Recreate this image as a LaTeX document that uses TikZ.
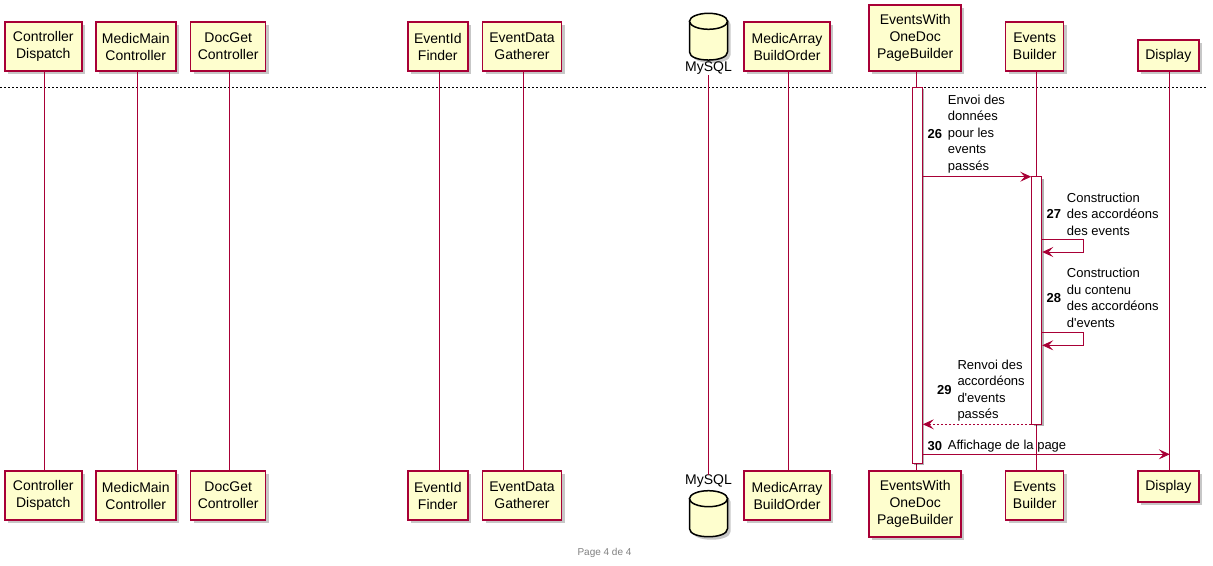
\documentclass[tikz,border=0pt]{standalone}
\usepackage{fontspec}
\setmainfont{Liberation Sans}
\usetikzlibrary{arrows.meta,shadows}
\definecolor{pfill}{HTML}{FEFECE}
\definecolor{pline}{HTML}{A80036}

\tikzset{
  boxshadow/.style={drop shadow={shadow xshift=3pt,shadow yshift=-3pt,fill=black,opacity=0.22}},
  part/.style={draw=pline, fill=pfill, line width=1.5pt, inner sep=0pt, align=center,
    font=\fontsize{14}{17}\selectfont, boxshadow},
  two/.style={part, minimum height=49pt},
  three/.style={part, minimum height=66pt},
  one/.style={part, minimum height=31pt},
  life/.style={draw=pline, line width=1pt},
  actbar/.style={draw=pline, fill=white, line width=1pt, minimum width=10pt, inner sep=0pt,
    drop shadow={shadow xshift=2pt,shadow yshift=-2pt,fill=black,opacity=0.3}},
  msg/.style={draw=pline, line width=1pt, -{Stealth[length=11pt,width=10pt,inset=4.5pt]}},
  reply/.style={msg, dash pattern=on 2pt off 2pt},
  msgtxt/.style={inner sep=0pt, align=left, font=\fontsize{13}{16.5}\selectfont, anchor=west},
  num/.style={inner sep=0pt, font=\fontsize{13}{16.5}\selectfont\bfseries, anchor=east},
  dbtxt/.style={inner sep=0pt, font=\fontsize{14}{17}\selectfont},
}

\begin{document}
\begin{tikzpicture}[x=1pt,y=-1pt]
\useasboundingbox (0,0) rectangle (1213,565);

% participants, top row
\node[two, minimum width=77pt] (cdT) at (43.3,46.5) {Controller\\Dispatch};
\node[two, minimum width=80pt] (mmT) at (135.8,46.5) {MedicMain\\Controller};
\node[two, minimum width=75pt] (dgT) at (228.2,46.5) {DocGet\\Controller};
\node[two, minimum width=60pt] (eiT) at (437.8,46.5) {EventId\\Finder};
\node[two, minimum width=79pt] (edT) at (522,46.5) {EventData\\Gatherer};
\node[two, minimum width=86pt] (maT) at (787,46.5) {MedicArray\\BuildOrder};
\node[three, minimum width=92pt] (ewT) at (915.2,38) {EventsWith\\OneDoc\\PageBuilder};
\node[two, minimum width=58pt] (ebT) at (1034.7,46.5) {Events\\Builder};
\node[one, minimum width=61pt] (dsT) at (1168.3,55.5) {Display};

% participants, bottom row
\node[two, minimum width=77pt] (cdB) at (43.3,495.5) {Controller\\Dispatch};
\node[two, minimum width=80pt] (mmB) at (135.8,495.5) {MedicMain\\Controller};
\node[two, minimum width=75pt] (dgB) at (228.2,495.5) {DocGet\\Controller};
\node[two, minimum width=60pt] (eiB) at (437.8,495.5) {EventId\\Finder};
\node[two, minimum width=79pt] (edB) at (522,495.5) {EventData\\Gatherer};
\node[two, minimum width=86pt] (maB) at (787,495.5) {MedicArray\\BuildOrder};
\node[three, minimum width=92pt] (ewB) at (915.2,504) {EventsWith\\OneDoc\\PageBuilder};
\node[two, minimum width=58pt] (ebB) at (1034.7,495.5) {Events\\Builder};
\node[one, minimum width=61pt] (dsB) at (1168.3,486.5) {Display};

% database participant (cylinders with labels)
\foreach \t/\b in {13.3/52, 490.7/528.7}{
  \begin{scope}[xshift=3pt,yshift=-3pt]
    \fill[black,opacity=0.22] (689.5,\t+8) -- (689.5,\b) .. controls (689.5,\b+10.7) and (727.5,\b+10.7) .. (727.5,\b) -- (727.5,\t+8) .. controls (727.5,\t-2.7) and (689.5,\t-2.7) .. cycle;
  \end{scope}
  \filldraw[fill=pfill, draw=black, line width=1.5pt] (689.5,\t+8) -- (689.5,\b) .. controls (689.5,\b+10.7) and (727.5,\b+10.7) .. (727.5,\b) -- (727.5,\t+8) -- cycle;
  \filldraw[fill=pfill, draw=black, line width=1.5pt] (708.5,\t+8) ellipse [x radius=19, y radius=8];
}
\node[dbtxt] (dbT) at (708.5,68.5) {MySQL};
\node[dbtxt] (dbB) at (708.5,481.5) {MySQL};

% page continuation separator
\draw[black, line width=0.7pt, dash pattern=on 2pt off 2pt] (0,87.5) -- (1206,87.5);

% lifelines
\foreach \p in {cd,mm,dg,ei,ed,ma,ew,eb,ds}{
  \draw[life] ([xshift=1.5pt]\p T.south) -- ([xshift=1.5pt]\p B.north);
}
\draw[life] (dbT.south) -- (dbB.north);

% activations
\node[actbar, minimum height=376pt] (actEW) at (917.3,275) {};
\node[actbar, minimum height=247.6pt] (actEB) at (1036.7,300.5) {};

% message rows
\coordinate (y26) at (0,176.7);
\coordinate (y27a) at (0,239.3);
\coordinate (y27b) at (0,252);
\coordinate (y28a) at (0,332.3);
\coordinate (y28b) at (0,345.3);
\coordinate (y29) at (0,424.3);
\coordinate (y30) at (0,454.3);
\coordinate (dsL) at ([xshift=1.5pt]dsT.south);

% 26
\draw[msg] (actEW.east |- y26) -- (actEB.west |- y26);
\node[msgtxt] (t26) at (947.7,134) {Envoi des\\données\\pour les\\events\\passés};
\node[num] (n26) at ([xshift=-5.5pt]t26.west) {26};

% 27
\draw[msg] (actEB.east |- y27a) -- ++(41.6,0) |- (actEB.east |- y27b);
\node[msgtxt] (t27) at (1066.7,214) {Construction\\des accordéons\\des events};
\node[num] (n27) at ([xshift=-5.5pt]t27.west) {27};

% 28
\draw[msg] (actEB.east |- y28a) -- ++(41.6,0) |- (actEB.east |- y28b);
\node[msgtxt] (t28) at (1066.7,298) {Construction\\du contenu\\des accordéons\\d\textquotesingle events};
\node[num] (n28) at ([xshift=-5.5pt]t28.west) {28};

% 29
\draw[reply] (actEB.west |- y29) -- (actEW.east |- y29);
\node[msgtxt] (t29) at (957.3,390.5) {Renvoi des\\accordéons\\d\textquotesingle events\\passés};
\node[num] (n29) at ([xshift=-5.5pt]t29.west) {29};

% 30
\draw[msg] (actEW.east |- y30) -- (dsL |- y30);
\node[msgtxt] (t30) at (947.7,446) {Affichage de la page};
\node[num] (n30) at ([xshift=-5.5pt]t30.west) {30};

% footer
\node[inner sep=0pt, text=black!50, font=\fontsize{10}{12}\selectfont] (footer) at (604.5,553) {Page 4 de 4};
\end{tikzpicture}
\end{document}
